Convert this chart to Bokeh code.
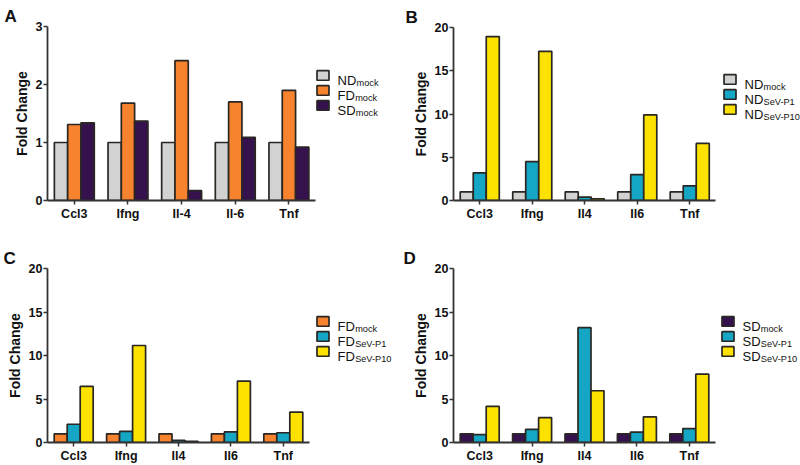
import numpy as np
from bokeh.plotting import figure
from bokeh.models import Range1d, Label, Legend, LegendItem, ColumnDataSource, FixedTicker, Title
from bokeh.layouts import row, column
from bokeh.embed import file_html
from bokeh.resources import INLINE

# ---------------- data ----------------
genes_a = ["Ccl3", "Ifng", "Il-4", "Il-6", "Tnf"]
genes = ["Ccl3", "Ifng", "Il4", "Il6", "Tnf"]

a_nd_mock = [1.0, 1.0, 1.0, 1.0, 1.0]
a_fd_mock = [1.31, 1.68, 2.41, 1.70, 1.90]
a_sd_mock = [1.34, 1.37, 0.17, 1.09, 0.92]

b_nd_mock = [1.0, 1.0, 1.0, 1.0, 1.0]
b_nd_p1 = [3.2, 4.5, 0.4, 3.0, 1.7]
b_nd_p10 = [18.95, 17.25, 0.2, 9.9, 6.6]

c_fd_mock = [1.0, 1.0, 1.0, 1.0, 1.0]
c_fd_p1 = [2.1, 1.27, 0.25, 1.23, 1.12]
c_fd_p10 = [6.45, 11.15, 0.12, 7.05, 3.48]

d_sd_mock = [1.0, 1.0, 1.0, 1.0, 1.0]
d_sd_p1 = [0.9, 1.5, 13.2, 1.2, 1.6]
d_sd_p10 = [4.15, 2.85, 5.95, 2.95, 7.85]

ticks_a = [0, 1, 2, 3]
ticks_bcd = [0, 5, 10, 15, 20]

GRAY = "#d3d2d2"
ORANGE = "#f7832e"
PURPLE = "#35114d"
TEAL = "#14a6c4"
YELLOW = "#fde200"
EDGE = "#2a2723"
FONT = "Liberation Sans"


def char_w(s, size):
    w = {"N": .722, "D": .722, "F": .611, "S": .667}
    return sum(w.get(c, .6) for c in s) * size


def panel(letter, cats, series, mains, subs, colors, ymax, ticks,
          w, h, left, top, bottom, axis_w, leg_x, leg_top, letter_dx):
    n = len(cats)
    frame_w = w - left
    xmax = n * frame_w / axis_w          # frame also holds the legend area
    p = figure(width=w, height=h, x_range=Range1d(0, xmax),
               y_range=Range1d(0, ymax), output_backend="svg",
               toolbar_location=None, min_border_left=left,
               min_border_right=0, min_border_top=top,
               min_border_bottom=bottom)
    p.outline_line_color = None
    p.grid.visible = False
    p.background_fill_color = "white"
    p.border_fill_color = "white"

    centers = np.arange(n) + 0.5
    bw = 0.248
    offs = [-bw, 0.0, bw]
    items = []
    for i in range(3):
        src = ColumnDataSource(dict(x=centers + offs[i], top=series[i], gene=cats))
        r = p.vbar(x="x", top="top", width=bw, source=src,
                   fill_color=colors[i], line_color=EDGE, line_width=1.7)
        items.append(LegendItem(label="", renderers=[r]))

    for ax in (p.xaxis[0], p.yaxis[0]):
        ax.axis_line_color = "#333333"
        ax.axis_line_width = 1.8
        ax.major_tick_line_color = "#333333"
        ax.major_tick_line_width = 1.5
        ax.major_tick_in = 0
        ax.major_tick_out = 4
        ax.minor_tick_line_color = None
        ax.major_label_text_font = FONT
        ax.major_label_text_font_style = "bold"
        ax.major_label_text_font_size = "12.5px"
        ax.major_label_text_color = "#111111"
    p.xaxis.bounds = (0, n)
    p.xaxis.ticker = FixedTicker(ticks=list(centers))
    p.xaxis.major_label_overrides = {float(c): g for c, g in zip(centers, cats)}
    p.xaxis.major_label_standoff = 2
    p.yaxis.major_label_standoff = 1
    p.yaxis.ticker = ticks
    p.yaxis.axis_label = "Fold Change"
    p.yaxis.axis_label_text_font = FONT
    p.yaxis.axis_label_text_font_style = "bold"
    p.yaxis.axis_label_text_font_size = "14px"
    p.yaxis.axis_label_text_color = "#111111"
    p.yaxis.axis_label_standoff = 3

    fh = h - top - bottom
    gh, gs = 12, 3
    gw = 15
    leg = Legend(items=items, location=(leg_x, fh - leg_top - (3 * gh + 2 * gs)),
                 glyph_width=gw, glyph_height=gh, label_height=gh, label_width=0,
                 spacing=gs, padding=0, margin=0, label_standoff=0,
                 label_text_font_size="1px",
                 border_line_alpha=0, background_fill_alpha=0)
    p.add_layout(leg, "center")

    main_size = 13
    for i in range(3):
        cy = fh - leg_top - gh / 2 - i * (gh + gs)
        tx = leg_x + gw + 7
        p.add_layout(Label(x=tx, y=cy - 4.6, x_units="screen", y_units="screen",
                           text=mains[i], text_font=FONT,
                           text_font_size=f"{main_size}px",
                           text_color="#111111", text_baseline="alphabetic"))
        sx = tx + char_w(mains[i], main_size) + 0.3
        p.add_layout(Label(x=sx, y=cy - 7.2, x_units="screen", y_units="screen",
                           text=subs[i], text_font=FONT, text_font_size="9.2px",
                           text_color="#111111", text_baseline="alphabetic"))

    p.title = Title(text=letter, align="left", offset=letter_dx - left, standoff=2,
                    text_font=FONT, text_font_style="bold", text_font_size="17px",
                    text_color="#111111")
    return p


pA = panel("A", genes_a, [a_nd_mock, a_fd_mock, a_sd_mock],
           ["ND", "FD", "SD"], ["mock", "mock", "mock"], [GRAY, ORANGE, PURPLE],
           3, ticks_a, 400, 230, 46, 26, 30, 269, 268, 43, 3)
pB = panel("B", genes, [b_nd_mock, b_nd_p1, b_nd_p10],
           ["ND", "ND", "ND"], ["mock", "SeV-P1", "SeV-P10"], [GRAY, TEAL, YELLOW],
           20, ticks_bcd, 400, 230, 51, 27, 30, 264, 269, 46, 3)
pC = panel("C", genes, [c_fd_mock, c_fd_p1, c_fd_p10],
           ["FD", "FD", "FD"], ["mock", "SeV-P1", "SeV-P10"], [ORANGE, TEAL, YELLOW],
           20, ticks_bcd, 400, 235, 47, 38, 21, 262, 268, 49, 3)
pD = panel("D", genes, [d_sd_mock, d_sd_p1, d_sd_p10],
           ["SD", "SD", "SD"], ["mock", "SeV-P1", "SeV-P10"], [PURPLE, TEAL, YELLOW],
           20, ticks_bcd, 400, 235, 53, 38, 21, 262, 267, 49, 3)

layout = row(column(pA, pC), column(pB, pD))
open("out.html", "w").write(file_html(layout, INLINE))
